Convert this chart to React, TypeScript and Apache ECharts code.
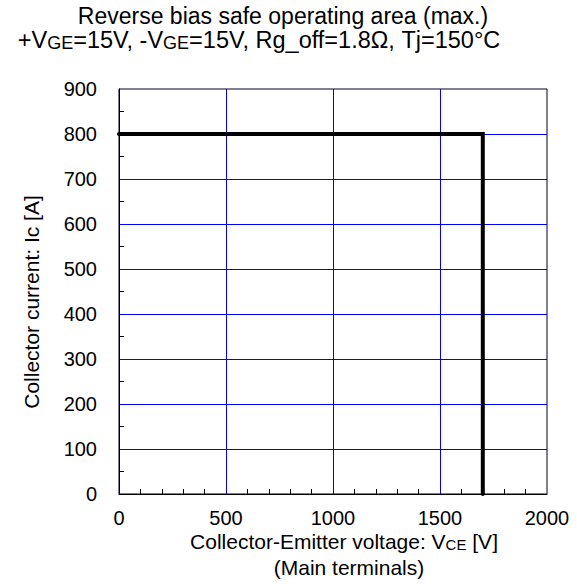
import React, { useEffect, useRef } from "react";
import * as echarts from "echarts";

const titleLine1 = "Reverse bias safe operating area (max.)";
const xName1 = "Collector-Emitter voltage: V";
const xName2 = "(Main terminals)";
const yName = "Collector current: Ic [A]";

const xTicks = { min: 0, max: 2000, interval: 500 };
const yTicks = { min: 0, max: 900, interval: 100 };

const rbsoaV = [0, 1700, 1700];
const rbsoaI = [800, 800, 0];

const FONT = "'Liberation Sans', Arial, sans-serif";

export default function App() {
  const ref = useRef<HTMLDivElement>(null);
  useEffect(() => {
    if (!ref.current) return;
    const chart = echarts.init(ref.current, undefined, { renderer: "svg" });
    const tBase = { fontFamily: FONT, fontSize: 23.5, color: "#000", verticalAlign: "bottom", lineHeight: 26 };
    const tSub = { fontFamily: FONT, fontSize: 18, color: "#000", verticalAlign: "bottom", lineHeight: 22 };
    const nBase = { fontFamily: FONT, fontSize: 21, color: "#000", verticalAlign: "bottom", lineHeight: 24 };
    const nSub = { fontFamily: FONT, fontSize: 15, color: "#000", verticalAlign: "bottom", lineHeight: 20 };
    chart.setOption({
      animation: false,
      backgroundColor: "#fff",
      grid: {
        left: 119,
        right: 30,
        top: 89,
        bottom: 90,
        show: true,
        borderColor: "#00002a",
        borderWidth: 1,
        outerBoundsMode: "none",
      },
      xAxis: {
        type: "value",
        min: xTicks.min,
        max: xTicks.max,
        interval: xTicks.interval,
        axisLine: { show: true, lineStyle: { color: "#000", width: 1 } },
        axisTick: { show: false, inside: true },
        minorTick: { show: true, splitNumber: 5, length: 5, lineStyle: { color: "#000", width: 1 } },
        splitLine: { show: true, showMinLine: false, showMaxLine: false, lineStyle: { color: "#0000ff", width: 1 } },
        axisLabel: { fontFamily: FONT, fontSize: 20, color: "#000", margin: 14, formatter: (v: number) => String(v) },
      },
      yAxis: {
        type: "value",
        min: yTicks.min,
        max: yTicks.max,
        interval: yTicks.interval,
        axisLine: { show: true, lineStyle: { color: "#000", width: 1 } },
        axisTick: { show: false, inside: true },
        minorTick: { show: true, splitNumber: 2, length: 5, lineStyle: { color: "#000", width: 1 } },
        splitLine: { show: true, showMinLine: false, showMaxLine: false, lineStyle: { color: "#0000ff", width: 1 } },
        axisLabel: { fontFamily: FONT, fontSize: 20, color: "#000", margin: 22, formatter: (v: number) => String(v) },
      },
      series: [
        {
          type: "line",
          data: rbsoaV.map((v, i) => [v, rbsoaI[i]]),
          showSymbol: false,
          clip: false,
          lineStyle: { color: "#000", width: 4, cap: "round", join: "miter" },
          z: 5,
        },
      ],
      graphic: [
        {
          type: "text",
          x: 283,
          y: 16,
          style: {
            text: titleLine1,
            fontFamily: FONT,
            fontSize: 23,
            fill: "#000",
            align: "center",
            verticalAlign: "middle",
          },
        },
        {
          type: "text",
          x: 259,
          y: 39,
          style: {
            text: "{a|+V}{s|GE}{a|=15V, -V}{s|GE}{a|=15V, Rg_off=1.8Ω, Tj=150°C}",
            align: "center",
            verticalAlign: "middle",
            rich: { a: tBase, s: tSub },
          },
        },
        {
          type: "text",
          x: 344,
          y: 540,
          style: {
            text: "{a|" + xName1 + "}{s|CE}{a| [V]}",
            align: "center",
            verticalAlign: "middle",
            rich: { a: nBase, s: nSub },
          },
        },
        {
          type: "text",
          x: 349,
          y: 567,
          style: {
            text: xName2,
            fontFamily: FONT,
            fontSize: 21,
            fill: "#000",
            align: "center",
            verticalAlign: "middle",
          },
        },
        {
          type: "text",
          x: 31,
          y: 302,
          rotation: Math.PI / 2,
          style: {
            text: yName,
            fontFamily: FONT,
            fontSize: 21,
            fill: "#000",
            align: "center",
            verticalAlign: "middle",
          },
        },
      ],
    });
    return () => chart.dispose();
  }, []);
  return (
    <div
      ref={ref}
      style={{ position: "fixed", left: 0, top: 0, width: 577, height: 584, background: "#fff" }}
    />
  );
}
